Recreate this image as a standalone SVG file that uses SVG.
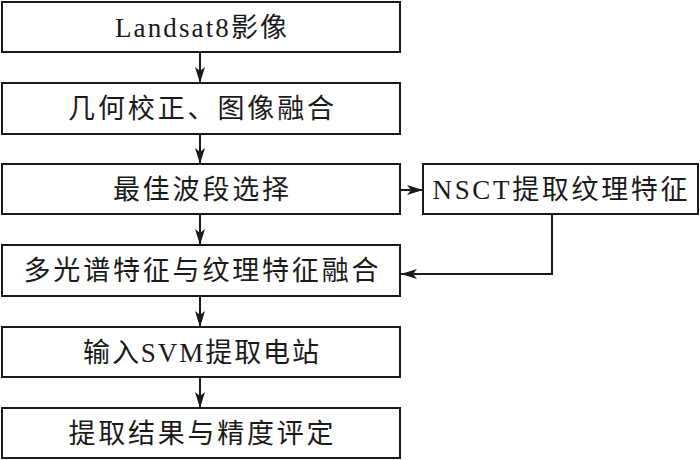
<svg xmlns="http://www.w3.org/2000/svg" width="700" height="460" viewBox="0 0 700 460">
<style>
.box{fill:#fff;stroke:#1a1a1a;stroke-width:2}
.t{font-family:"Liberation Serif","Noto Sans CJK SC",serif;font-size:27px;fill:#1a1a1a;text-anchor:middle}
.c{fill:none;stroke:#1a1a1a;stroke-width:2}
</style>
<defs>
<marker id="ah" viewBox="0 0 16 10" refX="16" refY="5" markerWidth="16" markerHeight="10" markerUnits="userSpaceOnUse" orient="auto">
<path d="M0,0 L16,5 L0,10 L4,5 Z" fill="#1a1a1a"/>
</marker>
</defs>
<g id="connectors">
<line class="c" x1="200" y1="52" x2="200" y2="83" marker-end="url(#ah)"/>
<line class="c" x1="200" y1="134" x2="200" y2="164" marker-end="url(#ah)"/>
<line class="c" x1="200" y1="215" x2="200" y2="245" marker-end="url(#ah)"/>
<line class="c" x1="200" y1="296" x2="200" y2="327" marker-end="url(#ah)"/>
<line class="c" x1="200" y1="377" x2="200" y2="408" marker-end="url(#ah)"/>
<line class="c" x1="400" y1="190" x2="423" y2="190" marker-end="url(#ah)"/>
<polyline class="c" points="552,214 552,274 401,274" marker-end="url(#ah)"/>
</g>
<g id="n1"><rect class="box" x="2" y="2" width="398" height="50"/><text class="t" x="201" y="37" textLength="172" lengthAdjust="spacing">Landsat8影像</text></g>
<g id="n2"><rect class="box" x="2" y="83" width="398" height="51"/><text class="t" x="201" y="118" textLength="266" lengthAdjust="spacing">几何校正、图像融合</text></g>
<g id="n3"><rect class="box" x="2" y="164" width="398" height="50"/><text class="t" x="201" y="199" textLength="176" lengthAdjust="spacing">最佳波段选择</text></g>
<g id="n4"><rect class="box" x="2" y="245" width="398" height="51"/><text class="t" x="201" y="280" textLength="355" lengthAdjust="spacing">多光谱特征与纹理特征融合</text></g>
<g id="n5"><rect class="box" x="2" y="327" width="398" height="50"/><text class="t" x="201" y="362" textLength="236" lengthAdjust="spacing">输入SVM提取电站</text></g>
<g id="n6"><rect class="box" x="2" y="408" width="398" height="50"/><text class="t" x="201" y="443" textLength="265" lengthAdjust="spacing">提取结果与精度评定</text></g>
<g id="n7"><rect class="box" x="423" y="164" width="275" height="50"/><text class="t" x="560" y="199" textLength="255" lengthAdjust="spacing">NSCT提取纹理特征</text></g>
</svg>
